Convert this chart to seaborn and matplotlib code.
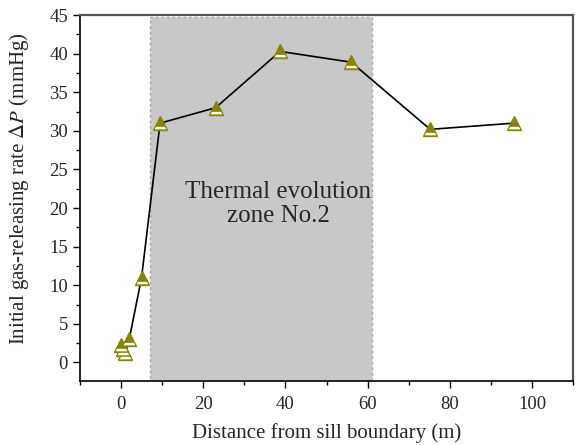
import numpy as np
import pandas as pd
import matplotlib
matplotlib.use("Agg")
import matplotlib.pyplot as plt
from matplotlib.path import Path
from matplotlib.ticker import MultipleLocator
import seaborn as sns

distance = [0.0, 0.5, 1.0, 2.0, 5.0, 9.5, 23.0, 38.7, 56.0, 75.2, 95.5]
gas_rate = [2.3, 1.7, 1.2, 3.0, 11.0, 31.0, 33.0, 40.3, 38.9, 30.2, 31.0]
zone_start, zone_end = 7, 61
zone_label = "Thermal evolution\nzone No.2"

sns.set_style("ticks")
plt.rcParams["font.family"] = ["Liberation Serif", "DejaVu Serif"]
plt.rcParams["mathtext.fontset"] = "stix"

df = pd.DataFrame({"distance": distance, "rate": gas_rate})

# white band inside the triangle marker (same scale as '^': first vertex sets the extent)
band = Path([(0, 1), (-0.8, -0.8), (0.8, -0.8), (0.62, -0.46), (-0.62, -0.46), (-0.8, -0.8)],
            [Path.MOVETO, Path.MOVETO, Path.LINETO, Path.LINETO, Path.LINETO, Path.CLOSEPOLY])

fig, ax = plt.subplots(figsize=(5.79, 4.45), dpi=100)
ax.axvspan(zone_start, zone_end, ymin=0, ymax=0.994, facecolor="#c8c8c8",
           edgecolor="#a8a8a8", linestyle=(0, (2, 2)), linewidth=1, zorder=0)

olive = "#858500"
sns.lineplot(data=df, x="distance", y="rate", ax=ax, color="black", linewidth=1.2,
             estimator=None, marker="^", markersize=10.5,
             markerfacecolor=olive, markeredgecolor=olive, markeredgewidth=1.0, zorder=3)
sns.lineplot(data=df, x="distance", y="rate", ax=ax, color="white", linestyle="",
             estimator=None, marker=band, markersize=10.5,
             markerfacecolor="white", markeredgewidth=0, zorder=4)

ax.text(38.3, 20.5, zone_label, ha="center", va="center", fontsize=18, linespacing=1.1)

ax.set_xlim(-10, 110)
ax.set_ylim(-2.4, 45)
ax.xaxis.set_major_locator(MultipleLocator(20))
ax.xaxis.set_minor_locator(MultipleLocator(10))
ax.yaxis.set_major_locator(MultipleLocator(5))
ax.yaxis.set_minor_locator(MultipleLocator(2.5))
ax.tick_params(which="both", direction="out", labelsize=13.5, width=1, color="black")
ax.tick_params(which="major", length=5)
ax.tick_params(which="minor", length=3)
ax.tick_params(axis="x", which="major", pad=6)
ax.set_xlabel("Distance from sill boundary (m)", fontsize=15, labelpad=7)
ax.set_ylabel(r"Initial gas-releasing rate $\Delta \mathit{P}$ (mmHg)", fontsize=15)
ax.yaxis.set_label_coords(-0.1, 0.525)

for side in ["left", "bottom"]:
    ax.spines[side].set_color("black")
    ax.spines[side].set_linewidth(1.2)
for side in ["top", "right"]:
    ax.spines[side].set_color("#555555")
    ax.spines[side].set_linewidth(1.6)

fig.subplots_adjust(left=0.138, right=0.99, bottom=0.144, top=0.966)
fig.savefig("out.png", dpi=100)
